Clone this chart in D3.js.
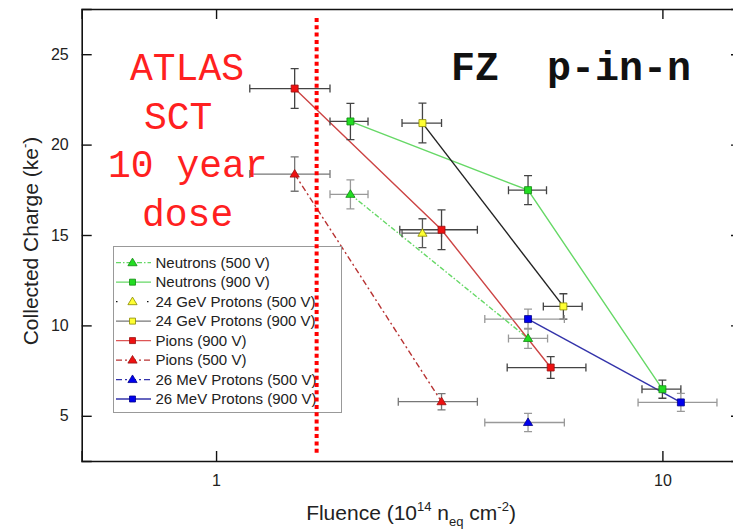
<!DOCTYPE html>
<html>
<head>
<meta charset="utf-8">
<script src="https://cdn.jsdelivr.net/npm/d3@7"></script>
<style>
  body { margin: 0; background: #fff; }
  text { font-family: "Liberation Sans", Arial, sans-serif; }
  .mono { font-family: "Liberation Mono", "Courier New", monospace; }
</style>
</head>
<body>
<div id="chart"></div>
<script>
// rows: [fluence, charge, fluenceLow, fluenceHigh, chargeErr]
const neutrons500 = [[2.0, 17.25, 1.80, 2.19, 0.8], [5.0, 9.28, 4.52, 5.53, 0.55]];
const neutrons900 = [[2.0, 21.28, 1.80, 2.19, 1.0], [5.0, 17.48, 4.52, 5.50, 0.8], [10.0, 6.47, 9.0, 11.0, 0.5]];
const protons24_500 = [[2.9, 15.1, 2.61, 3.20, 0.8]];
const protons24_900 = [[2.9, 21.19, 2.61, 3.20, 1.1], [6.0, 11.05, 5.41, 6.61, 0.7]];
const pions900 = [[1.5, 23.1, 1.19, 1.80, 1.1], [3.2, 15.29, 2.58, 3.85, 1.1], [5.62, 7.67, 4.49, 6.74, 0.6]];
const pions500 = [[1.5, 18.37, 1.19, 1.80, 0.95], [3.2, 5.78, 2.56, 3.85, 0.45]];
const protons26_500 = [[5.0, 4.63, 4.0, 6.03, 0.5]];
const protons26_900 = [[5.0, 10.35, 4.0, 6.03, 0.55], [11.0, 5.74, 8.82, 13.25, 0.5]];

const legendLabels = ["Neutrons (500 V)", "Neutrons (900 V)", "24 GeV Protons (500 V)", "24 GeV Protons (900 V)",
  "Pions (900 V)", "Pions (500 V)", "26 MeV Protons (500 V)", "26 MeV Protons (900 V)"];

const yMajor = [5, 10, 15, 20, 25];
const yMinor = [2.5, 7.5, 12.5, 17.5, 22.5, 27.5];
const xMajor = [1, 10];
const xMinor = [0.6, 0.7, 0.8, 0.9, 2, 3, 4, 5, 6, 7, 8, 9];
const sctDose = 1.68; // 10 year ATLAS SCT dose
const annotationLines = ["ATLAS", "SCT", "10 year", "dose"];

// styles, one per series in the order of legendLabels
const styles = [
  { data: neutrons500, marker: "tri", fill: "#22dd22", edge: "#118811", line: "#66d866", legLine: "#66d866", dash: "5,2,1.5,2", err: "#999" },
  { data: neutrons900, marker: "sq", fill: "#22dd22", edge: "#118811", line: "#66d866", legLine: "#66d866", dash: null, err: "#444" },
  { data: protons24_500, marker: "tri", fill: "#ffff33", edge: "#888800", line: "#111", legLine: "#111", dash: "1.5,12", err: "#555" },
  { data: protons24_900, marker: "sq", fill: "#ffff33", edge: "#888800", line: "#222", legLine: "#777", dash: null, err: "#444" },
  { data: pions900, marker: "sq", fill: "#ee1111", edge: "#991111", line: "#cc4444", legLine: "#dd5555", dash: null, err: "#444" },
  { data: pions500, marker: "tri", fill: "#ee1111", edge: "#991111", line: "#b83333", legLine: "#b83333", dash: "6,3,2,3", err: "#777" },
  { data: protons26_500, marker: "tri", fill: "#0000ee", edge: "#000088", line: "#3333aa", legLine: "#3333aa", dash: "6,3,2,3", err: "#999" },
  { data: protons26_900, marker: "sq", fill: "#0000ee", edge: "#000088", line: "#3333aa", legLine: "#3333aa", dash: null, err: "#999" }
];

const width = 733, height = 531;

const svg = d3.select("#chart").append("svg")
    .attr("width", width)
    .attr("height", height);

svg.append("rect").attr("width", width).attr("height", height).attr("fill", "#fff");

const x = d3.scaleLog().domain([0.5, 15]).range([81.7, 741]);
const y = d3.scaleLinear().domain([2.5, 27.5]).range([461, 9]);

// axes with inward ticks on all four sides
function drawAxes() {
    const bottom = svg.append("g").attr("transform", `translate(0,${y(2.5)})`);
    bottom.call(d3.axisBottom(x).tickValues(xMinor).tickSize(-5).tickFormat(""));
    bottom.call(d3.axisBottom(x).tickValues(xMajor).tickSize(-10).tickPadding(14).tickFormat(d3.format("d")));

    const top = svg.append("g").attr("transform", `translate(0,${y(27.5)})`);
    top.call(d3.axisTop(x).tickValues(xMinor).tickSize(-5).tickFormat(""));
    top.call(d3.axisTop(x).tickValues(xMajor).tickSize(-10).tickFormat(""));

    const left = svg.append("g").attr("transform", `translate(${x(0.5)},0)`);
    left.call(d3.axisLeft(y).tickValues(yMinor).tickSize(-5).tickFormat(""));
    left.call(d3.axisLeft(y).tickValues(yMajor).tickSize(-10).tickPadding(13).tickFormat(d3.format("d")));

    const right = svg.append("g").attr("transform", `translate(${x(15)},0)`);
    right.call(d3.axisRight(y).tickValues(yMinor).tickSize(-5).tickFormat(""));
    right.call(d3.axisRight(y).tickValues(yMajor).tickSize(-10).tickFormat(""));

    svg.selectAll(".domain").attr("stroke", "#111").attr("stroke-width", 1.6);
    svg.selectAll(".tick line").attr("stroke", "#111").attr("stroke-width", 1.4);
    svg.selectAll(".tick text").attr("font-size", 16).attr("fill", "#222")
        .attr("font-family", "'Liberation Sans', Arial, sans-serif");

    // axis titles
    const xt = svg.append("text").attr("x", 411).attr("y", 520).attr("text-anchor", "middle")
        .attr("font-size", 21).attr("fill", "#222");
    xt.append("tspan").text("Fluence (10");
    xt.append("tspan").attr("font-size", 13).attr("dy", -9).text("14");
    xt.append("tspan").attr("dy", 9).text(" n");
    xt.append("tspan").attr("font-size", 13).attr("dy", 6).text("eq");
    xt.append("tspan").attr("dy", -6).text(" cm");
    xt.append("tspan").attr("font-size", 13).attr("dy", -9).text("-2");
    xt.append("tspan").attr("dy", 9).text(")");

    const yt = svg.append("text").attr("transform", "translate(38,241) rotate(-90)")
        .attr("text-anchor", "middle").attr("font-size", 21).attr("fill", "#222");
    yt.append("tspan").text("Collected Charge (ke");
    yt.append("tspan").attr("font-size", 13).attr("dy", -9).text("-");
    yt.append("tspan").attr("dy", 9).text(")");
}

function markerPath(type, cx, cy, s) {
    if (type === "sq") {
        return `M${cx - s},${cy - s}h${2 * s}v${2 * s}h${-2 * s}Z`;
    }
    const h = s * 1.9;
    return `M${cx},${cy - h * 0.6}L${cx + s * 1.15},${cy + h * 0.4}L${cx - s * 1.15},${cy + h * 0.4}Z`;
}

function drawSeries() {
    const line = d3.line().x(d => x(d[0])).y(d => y(d[1]));

    const lines = svg.append("g");
    styles.forEach(s => {
        if (s.data.length < 2) return;
        lines.append("path").datum(s.data)
            .attr("d", line)
            .attr("fill", "none")
            .attr("stroke", s.line)
            .attr("stroke-width", 1.4)
            .attr("stroke-dasharray", s.dash);
    });

    const errs = svg.append("g");
    styles.forEach(s => {
        s.data.forEach(d => {
            const cx = x(d[0]), cy = y(d[1]);
            const x0 = x(d[2]), x1 = x(d[3]);
            const y0 = y(d[1] + d[4]), y1 = y(d[1] - d[4]);
            const path = `M${x0},${cy}H${x1}M${x0},${cy - 4}V${cy + 4}M${x1},${cy - 4}V${cy + 4}` +
                `M${cx},${y0}V${y1}M${cx - 4},${y0}H${cx + 4}M${cx - 4},${y1}H${cx + 4}`;
            errs.append("path").attr("d", path).attr("fill", "none")
                .attr("stroke", s.err).attr("stroke-width", 1.3);
        });
    });

    const marks = svg.append("g");
    styles.forEach(s => {
        marks.selectAll(null).data(s.data).enter().append("path")
            .attr("d", d => markerPath(s.marker, x(d[0]), y(d[1]), s.marker === "sq" ? 3.5 : 4))
            .attr("fill", s.fill)
            .attr("stroke", s.edge)
            .attr("stroke-width", 0.8);
    });
}

function drawLegend() {
    const g = svg.append("g");
    g.append("rect").attr("x", 113.5).attr("y", 246.5).attr("width", 228).attr("height", 166)
        .attr("fill", "#fff").attr("stroke", "#999").attr("stroke-width", 1);

    const row = d3.scaleLinear().domain([0, 7]).range([262.7, 399]);
    styles.forEach((s, i) => {
        const cy = row(i);
        g.append("line").attr("x1", 116).attr("x2", 151).attr("y1", cy).attr("y2", cy)
            .attr("stroke", s.legLine).attr("stroke-width", 1.3)
            .attr("stroke-dasharray", s.dash === "1.5,12" ? "1.5,14" : s.dash);
        g.append("path").attr("d", markerPath(s.marker, 132.5, cy, s.marker === "sq" ? 3 : 4))
            .attr("fill", s.fill).attr("stroke", s.edge).attr("stroke-width", 0.8);
        g.append("text").attr("x", 155.5).attr("y", cy + 5.3)
            .attr("font-size", 15).attr("fill", "#222").text(legendLabels[i]);
    });
}

function drawAnnotations() {
    const starts = [130, 144, 108, 142];
    annotationLines.forEach((t, i) => {
        svg.append("text").attr("class", "mono")
            .attr("x", starts[i]).attr("y", 80 + i * 48.5)
            .attr("font-size", 38).attr("fill", "#ff2020").text(t);
    });

    svg.append("text").attr("class", "mono")
        .attr("x", 451).attr("y", 80)
        .attr("font-size", 40).attr("font-weight", "bold").attr("fill", "#111")
        .attr("xml:space", "preserve")
        .text("FZ  p-in-n");

    svg.append("line")
        .attr("x1", x(sctDose)).attr("x2", x(sctDose))
        .attr("y1", 18).attr("y2", 456)
        .attr("stroke", "#ff0000").attr("stroke-width", 4)
        .attr("stroke-dasharray", "4,3.3");
}

drawAxes();
drawSeries();
drawLegend();
drawAnnotations();
</script>
</body>
</html>
